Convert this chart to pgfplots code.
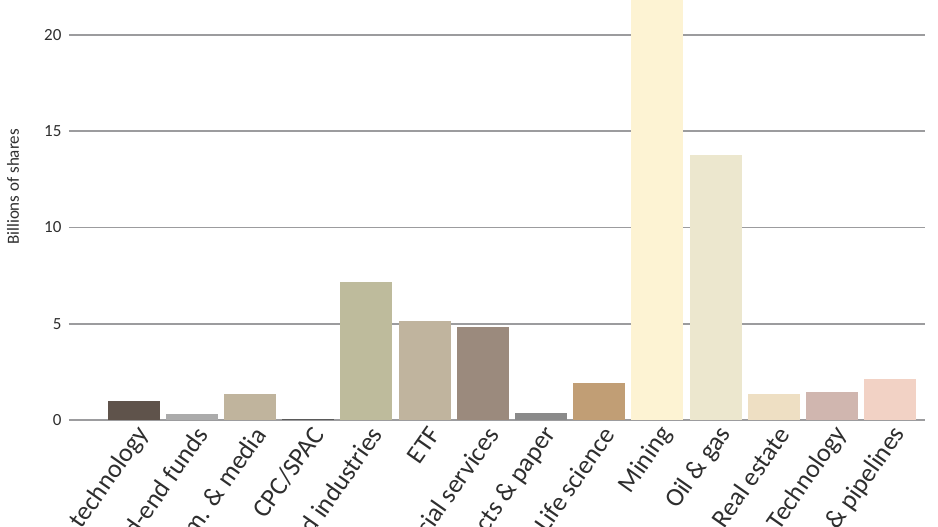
\documentclass[border=0pt]{standalone}
\usepackage{pgfplots}
\pgfplotsset{compat=1.18}
\usepackage{fontspec}
\setmainfont{Carlito}
\definecolor{c1}{HTML}{5F534B}
\definecolor{c2}{HTML}{ABABAB}
\definecolor{c3}{HTML}{C0B49D}
\definecolor{c4}{HTML}{5A5A5A}
\definecolor{c5}{HTML}{BEBB9C}
\definecolor{c6}{HTML}{C0B49E}
\definecolor{c7}{HTML}{9B8A7D}
\definecolor{c8}{HTML}{8A8A8A}
\definecolor{c9}{HTML}{C19E75}
\definecolor{c10}{HTML}{FDF3D3}
\definecolor{c11}{HTML}{ECE7CE}
\definecolor{c12}{HTML}{EEDFC3}
\definecolor{c13}{HTML}{D0B6AF}
\definecolor{c14}{HTML}{F2D2C5}
\definecolor{gridc}{HTML}{9C9C9E}
\definecolor{textc}{HTML}{2E2E2E}
\begin{document}
\begin{tikzpicture}
\path[use as bounding box, clip] (-69pt,-107pt) rectangle (869pt,420pt);
\begin{axis}[
  at={(0,0)}, anchor=south west,
  scale only axis, width=856pt, height=420pt,
  xmin=-1.11, xmax=13.6, ymin=0, ymax=21.82,
  axis x line*=bottom, axis y line*=left,
  axis line style={draw=none},
  major tick length=0pt,
  xtick={0,...,13},
  xticklabels={Clean technology, Closed-end funds, Comm. \& media, CPC/SPAC, Diversified industries, ETF, Financial services, Forest products \& paper, Life science, Mining, Oil \& gas, Real estate, Technology, Utilities \& pipelines},
  ytick={0,5,10,15,20},
  ymajorgrids,
  grid style={draw=gridc, line width=1.7pt},
  /pgf/number format/assume math mode=true,
  yticklabel style={font=\fontsize{17}{17}\selectfont, text=textc, xshift=-4pt},
  xticklabel style={font=\fontsize{26}{26}\selectfont, text=textc, xshift=12pt, yshift=-7pt, rotate=55, anchor=east},
  every axis y label/.style={at={(axis description cs:-0.0654,0.555)}, rotate=90, anchor=center, font=\fontsize{17}{17}\selectfont, text=textc},
  ylabel={Billions of shares},
  ybar, bar width=52pt, bar shift=0pt,
]
\addplot[fill=c1, draw=none] coordinates {(0,0.97)};
\addplot[fill=c2, draw=none] coordinates {(1,0.3)};
\addplot[fill=c3, draw=none] coordinates {(2,1.37)};
\addplot[fill=c4, draw=none] coordinates {(3,0.04)};
\addplot[fill=c5, draw=none] coordinates {(4,7.15)};
\addplot[fill=c6, draw=none] coordinates {(5,5.16)};
\addplot[fill=c7, draw=none] coordinates {(6,4.85)};
\addplot[fill=c8, draw=none] coordinates {(7,0.35)};
\addplot[fill=c9, draw=none] coordinates {(8,1.94)};
\addplot[fill=c10, draw=none] coordinates {(9,24)};
\addplot[fill=c11, draw=none] coordinates {(10,13.77)};
\addplot[fill=c12, draw=none] coordinates {(11,1.35)};
\addplot[fill=c13, draw=none] coordinates {(12,1.44)};
\addplot[fill=c14, draw=none] coordinates {(13,2.15)};
\end{axis}
\end{tikzpicture}
\end{document}
